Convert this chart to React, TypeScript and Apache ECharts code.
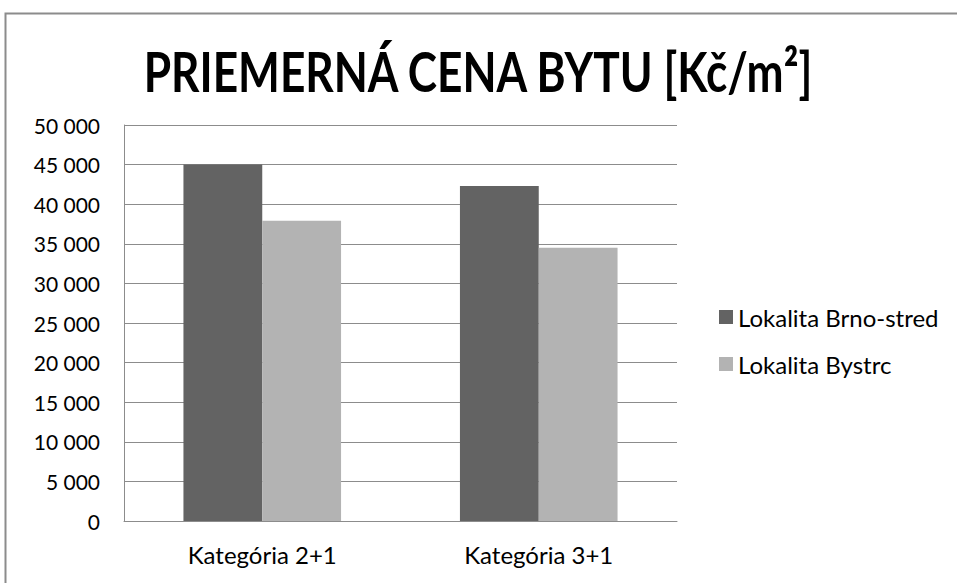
import React, { useEffect, useRef } from "react";
import * as echarts from "echarts";

const categories = ["Kategória 2+1", "Kategória 3+1"];
const seriesNames = ["Lokalita Brno-stred", "Lokalita Bystrc"];
const brnoStred = [45000, 42300];
const bystrc = [37900, 34500];
const yMax = 50000;
const yStep = 5000;
const titleText = "PRIEMERNÁ CENA BYTU [Kč/m²]";

const FONT = "Lato, 'Open Sans', sans-serif";
const FS = 24;

export default function App() {
  const ref = useRef<HTMLDivElement>(null);
  useEffect(() => {
    if (!ref.current) return;
    const chart = echarts.init(ref.current, undefined, { renderer: "svg" });
    chart.setOption({
      animation: false,
      backgroundColor: "#ffffff",
      graphic: [
        {
          type: "rect",
          shape: { x: 5.5, y: 13.5, width: 2000, height: 2000 },
          style: { fill: "none", stroke: "#8c8c8c", lineWidth: 2 },
          silent: true,
        },
        {
          type: "text",
          x: 478,
          y: 70,
          scaleX: 0.79,
          style: {
            text: titleText,
            fontFamily: FONT,
            fontSize: 56,
            fontWeight: "bold",
            fill: "#000000",
            align: "center",
            verticalAlign: "middle",
          },
          silent: true,
        },
      ],
      legend: {
        orient: "vertical",
        left: 714,
        top: 300,
        itemGap: 23,
        itemWidth: 14,
        itemHeight: 14,
        icon: "rect",
        data: seriesNames,
        textStyle: { fontFamily: FONT, fontSize: FS, lineHeight: 24, color: "#000000", padding: [0, 0, 0, 0] },
      },
      grid: { left: 124, right: 280, top: 125, bottom: 62 },
      xAxis: {
        type: "category",
        data: categories,
        axisLine: { lineStyle: { color: "#8c8c8c", width: 1 } },
        axisTick: { show: false },
        axisLabel: { fontFamily: FONT, fontSize: FS, color: "#000000", margin: 21 },
      },
      yAxis: {
        type: "value",
        min: 0,
        max: yMax,
        interval: yStep,
        axisLine: { show: true, lineStyle: { color: "#8c8c8c", width: 1 } },
        axisTick: { show: false },
        splitLine: { lineStyle: { color: "#8c8c8c", width: 1 } },
        axisLabel: {
          fontFamily: FONT,
          fontSize: 21,
          color: "#000000",
          margin: 24,
          formatter: (v: number) => String(v).replace(/\B(?=(\d{3})+(?!\d))/g, " "),
        },
      },
      series: [
        {
          name: seriesNames[0],
          type: "bar",
          data: brnoStred,
          itemStyle: { color: "#636363" },
          barGap: "0%",
          barCategoryGap: "43%",
        },
        {
          name: seriesNames[1],
          type: "bar",
          data: bystrc,
          itemStyle: { color: "#b3b3b3" },
          barGap: "0%",
          barCategoryGap: "43%",
        },
      ],
    });
    return () => chart.dispose();
  }, []);
  return (
    <div
      ref={ref}
      style={{ position: "fixed", left: 0, top: 0, width: 957, height: 583 }}
    />
  );
}
